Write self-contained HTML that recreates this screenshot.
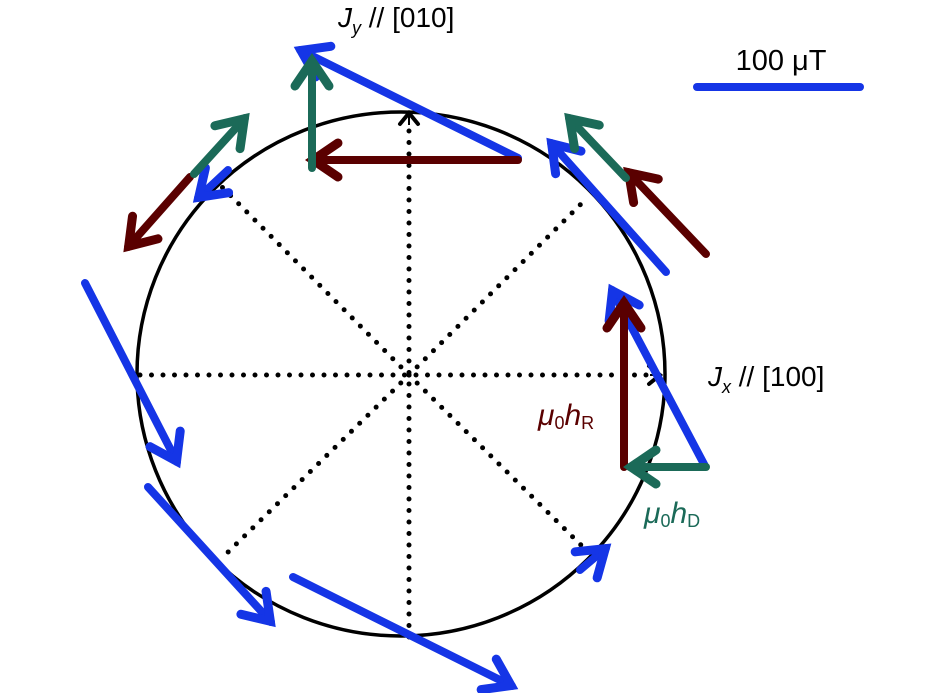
<!DOCTYPE html>
<html><head><meta charset="utf-8"><style>
html,body{margin:0;padding:0;background:#fff;}
svg{display:block;}
text{font-family:"Liberation Sans",sans-serif;}
</style></head><body>
<svg width="945" height="693" viewBox="0 0 945 693" xmlns="http://www.w3.org/2000/svg">
<defs>
<marker id="hb" markerUnits="userSpaceOnUse" markerWidth="70" markerHeight="70" viewBox="-35 -35 70 70" refX="0" refY="0" orient="auto"><path d="M-26,-17 L-1,0 L-26,17" fill="none" stroke="#1535e6" stroke-width="9" stroke-linecap="round" stroke-linejoin="miter"/></marker>
<marker id="hr" markerUnits="userSpaceOnUse" markerWidth="70" markerHeight="70" viewBox="-35 -35 70 70" refX="0" refY="0" orient="auto"><path d="M-26,-17 L-1,0 L-26,17" fill="none" stroke="#5a0000" stroke-width="9" stroke-linecap="round"/></marker>
<marker id="hg" markerUnits="userSpaceOnUse" markerWidth="70" markerHeight="70" viewBox="-35 -35 70 70" refX="0" refY="0" orient="auto"><path d="M-26,-17 L-1,0 L-26,17" fill="none" stroke="#1b6a58" stroke-width="9" stroke-linecap="round"/></marker>
<marker id="hk" markerUnits="userSpaceOnUse" markerWidth="30" markerHeight="30" viewBox="-15 -15 30 30" refX="0" refY="0" orient="auto"><path d="M-11,-9 L0,0 L-11,9" fill="none" stroke="#000" stroke-width="4" stroke-linecap="round"/></marker>
</defs>

<ellipse cx="401" cy="374" rx="264" ry="262" fill="none" stroke="#000" stroke-width="3.5"/>

<g stroke="#000" stroke-width="5" stroke-dasharray="0 11.5" stroke-linecap="round" fill="none">
<line x1="140" y1="375" x2="655" y2="375"/>
<line x1="409" y1="637" x2="409" y2="122"/>
<line x1="409" y1="375" x2="222" y2="187"/>
<line x1="409" y1="375" x2="585" y2="200"/>
<line x1="409" y1="375" x2="222" y2="558"/>
<line x1="409" y1="375" x2="588" y2="552"/>
</g>
<line x1="650" y1="375" x2="660" y2="375" stroke="#000" stroke-width="2" marker-end="url(#hk)"/>
<line x1="409" y1="125" x2="409" y2="113" stroke="#000" stroke-width="2" marker-end="url(#hk)"/>

<g stroke="#1535e6" stroke-width="8" stroke-linecap="round" fill="none">
<line x1="518" y1="158" x2="300" y2="50" marker-end="url(#hb)"/>
<line x1="666" y1="272" x2="551" y2="143" marker-end="url(#hb)"/>
<line x1="705" y1="466" x2="612" y2="290" marker-end="url(#hb)"/>
<line x1="85" y1="283" x2="177" y2="462" marker-end="url(#hb)"/>
<line x1="148" y1="487" x2="271" y2="622" marker-end="url(#hb)"/>
<line x1="293" y1="577" x2="512" y2="686" marker-end="url(#hb)"/>
<line x1="580" y1="570" x2="606" y2="548" marker-end="url(#hb)"/>
<line x1="228" y1="170" x2="198" y2="198" marker-end="url(#hb)"/>
<line x1="697" y1="87" x2="860" y2="87"/>
</g>

<g stroke="#5a0000" stroke-width="8" stroke-linecap="round" fill="none">
<line x1="518" y1="160" x2="312" y2="160" marker-end="url(#hr)"/>
<line x1="706" y1="254" x2="628" y2="172" marker-end="url(#hr)"/>
<line x1="624" y1="467" x2="624" y2="302" marker-end="url(#hr)"/>
<line x1="190" y1="177" x2="128" y2="247" marker-end="url(#hr)"/>
</g>

<g stroke="#1b6a58" stroke-width="8" stroke-linecap="round" fill="none">
<line x1="312" y1="168" x2="312" y2="60" marker-end="url(#hg)"/>
<line x1="626" y1="178" x2="569" y2="118" marker-end="url(#hg)"/>
<line x1="706" y1="467" x2="630" y2="467" marker-end="url(#hg)"/>
<line x1="194" y1="174" x2="245" y2="118" marker-end="url(#hg)"/>
</g>

<text x="781" y="70" font-size="29" text-anchor="middle" fill="#000">100 μT</text>
<text x="338" y="27" font-size="28" fill="#000"><tspan font-style="italic">J</tspan><tspan font-size="18" font-style="italic" dy="7">y</tspan><tspan dy="-7"> // [010]</tspan></text>
<text x="708" y="386" font-size="28" fill="#000"><tspan font-style="italic">J</tspan><tspan font-size="18" font-style="italic" dy="7">x</tspan><tspan dy="-7"> // [100]</tspan></text>
<text x="538" y="425" font-size="30" fill="#5a0000"><tspan font-style="italic">μ</tspan><tspan font-size="18" dy="4">0</tspan><tspan font-style="italic" dy="-4">h</tspan><tspan font-size="18" dy="4">R</tspan></text>
<text x="644" y="523" font-size="30" fill="#1b6a58"><tspan font-style="italic">μ</tspan><tspan font-size="18" dy="4">0</tspan><tspan font-style="italic" dy="-4">h</tspan><tspan font-size="18" dy="4">D</tspan></text>
</svg>
</body></html>
